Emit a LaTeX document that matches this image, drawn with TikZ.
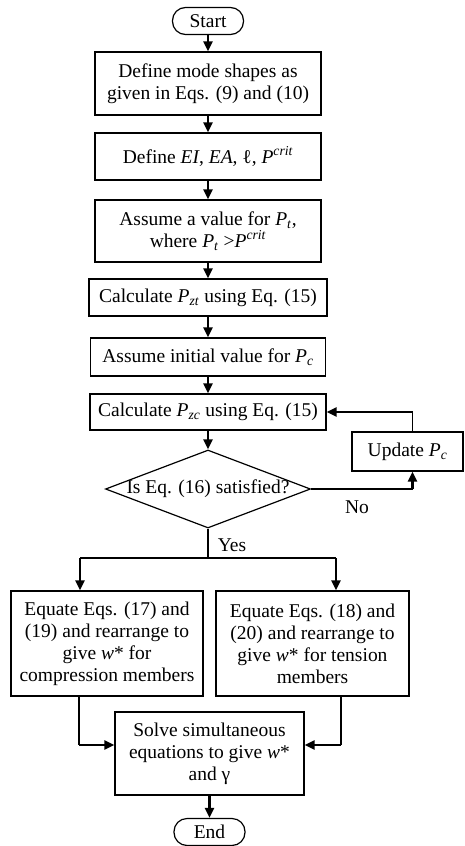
\documentclass[tikz,border=0pt]{standalone}
\usepackage{fontspec}
\setmainfont{Liberation Serif}
\usepackage{tikz}
\usetikzlibrary{shapes.geometric, arrows.meta, calc}
\tikzset{
  procbox/.style={
    draw, line width=1.2pt, align=center, inner sep=2pt, fill=white
  },
  termbox/.style={
    draw, line width=1.2pt, rounded corners=13pt, inner sep=0pt,
    minimum width=71pt, minimum height=27pt
  },
  decbox/.style={
    draw, diamond, line width=1.2pt, inner sep=0pt, aspect=2.6,
    minimum width=205pt, minimum height=78pt
  },
  flowarrow/.style={
    -{Triangle[length=10pt,width=9pt]}, line width=2.5pt
  },
  flowline/.style={line width=1.3pt},
  flowlabel/.style={inner sep=0pt},
}
\newcommand{\Psub}[2]{\textit{#1}\textsubscript{\textit{#2}}}
\newcommand{\Pcrit}{\textit{P}\textsuperscript{\textit{crit}}}

\begin{document}
\begin{tikzpicture}[x=1pt, y=-1pt, font=\fontsize{19.5}{22}\selectfont]
  \useasboundingbox (0,0) rectangle (465,846);

  % Main column
  \node[termbox] (start) at (208,21) {Start};
  \node[procbox, minimum width=226pt, minimum height=63pt] (modes) at (208,83.5)
    {Define mode shapes as\\given in Eqs. (9) and (10)};
  \node[procbox, minimum width=226pt, minimum height=47pt] (params) at (208,156.5)
    {Define \textit{EI}, \textit{EA}, ℓ, \Pcrit};
  \node[procbox, minimum width=226pt, minimum height=62pt] (assumept) at (208,231)
    {Assume a value for \Psub{P}{t},\\where \Psub{P}{t} >\Pcrit};
  \node[procbox, minimum width=238pt, minimum height=37pt] (calczt) at (208,297.5)
    {Calculate \Psub{P}{zt} using Eq. (15)};
  \node[procbox, minimum width=235pt, minimum height=38pt] (assumepc) at (208,357)
    {Assume initial value for \Psub{P}{c}};
  \node[procbox, minimum width=236pt, minimum height=36pt] (calczc) at (208,412)
    {Calculate \Psub{P}{zc} using Eq. (15)};

  % Check and update loop
  \node[decbox] (check) at (208,489)
    {\makebox[140pt]{Is Eq. (16) satisfied?}};
  \node[procbox, minimum width=111pt, minimum height=39pt] (update) at (407.5,451.5)
    {Update \Psub{P}{c}};
  \node[flowlabel] (nolbl) at (357,507) {No};
  \node[flowlabel] (yeslbl) at (232,545) {Yes};

  % Branches
  \node[procbox, minimum width=192pt, minimum height=105pt] (eqcomp) at (107,643.5)
    {Equate Eqs. (17) and\\(19) and rearrange to\\give \textit{w}* for\\compression members};
  \node[procbox, minimum width=193pt, minimum height=105pt] (eqtens) at (312.5,643.5)
    {Equate Eqs. (18) and\\(20) and rearrange to\\give \textit{w}* for tension\\members};
  \node[procbox, minimum width=189pt, minimum height=83pt] (solve) at (209.5,753.5)
    {Solve simultaneous\\equations to give \textit{w}*\\and γ};
  \node[termbox] (finish) at (209.5,832) {End};

  % Connectors
  \draw[flowarrow] (start) -- (modes);
  \draw[flowarrow] (modes) -- (params);
  \draw[flowarrow] (params) -- (assumept);
  \draw[flowarrow] (assumept) -- (calczt);
  \draw[flowarrow] (calczt) -- (assumepc);
  \draw[flowarrow] (assumepc) -- (calczc);
  \draw[flowarrow] (calczc) -- (check);

  \coordinate (nocorner) at ([xshift=5pt]update.south |- check.east);
  \draw[flowline] (check.east) -- (nocorner);
  \draw[flowarrow] (nocorner) -- ([xshift=5pt]update.south);
  \coordinate (backcorner) at ([xshift=5pt]update.north |- calczc.east);
  \draw[flowline] ([xshift=5pt]update.north) -- (backcorner);
  \draw[flowarrow] (backcorner) -- (calczc.east);

  \coordinate (split) at (208,558);
  \coordinate (splitl) at (80,558);
  \coordinate (splitr) at (336,558);
  \draw[flowline] (check.south) -- (split);
  \draw[flowline] (splitl) -- (splitr);
  \draw[flowarrow] (splitl) -- (splitl |- eqcomp.north);
  \draw[flowarrow] (splitr) -- (splitr |- eqtens.north);

  \coordinate (mergel) at (79,745);
  \coordinate (merger) at (341,745);
  \draw[flowline] (mergel |- eqcomp.south) -- (mergel);
  \draw[flowarrow] (mergel) -- (mergel -| solve.west);
  \draw[flowline] (merger |- eqtens.south) -- (merger);
  \draw[flowarrow] (merger) -- (merger -| solve.east);
  \draw[flowarrow] (solve) -- (finish);
\end{tikzpicture}
\end{document}
